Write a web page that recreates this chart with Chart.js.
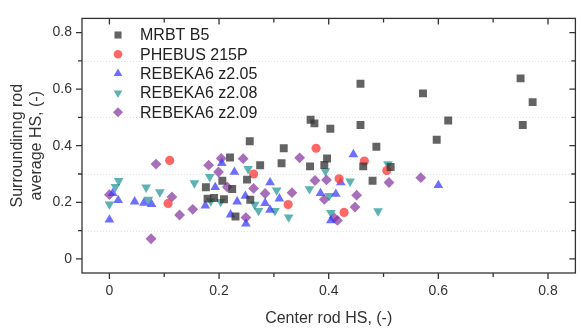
<!DOCTYPE html>
<html>
<head>
<meta charset="utf-8">
<script src="https://cdn.jsdelivr.net/npm/chart.js@4"></script>
<style>
  html, body { margin: 0; padding: 0; background: #fff; }
  #wrap { width: 581px; height: 330px; }
</style>
</head>
<body>
<div id="wrap"><canvas id="myChart" width="581" height="330"></canvas></div>
<script>
// data block, [center rod HS, surrounding rod HS]
const mrbt = [
  [0.176, 0.253], [0.179, 0.213], [0.191, 0.215], [0.206, 0.276], [0.209, 0.211],
  [0.224, 0.247], [0.220, 0.358], [0.230, 0.150], [0.251, 0.280], [0.257, 0.209],
  [0.256, 0.416], [0.275, 0.331], [0.314, 0.338], [0.318, 0.391], [0.367, 0.492],
  [0.374, 0.479], [0.366, 0.327], [0.392, 0.332], [0.397, 0.355], [0.403, 0.460],
  [0.458, 0.619], [0.458, 0.473], [0.463, 0.327], [0.487, 0.396], [0.480, 0.276],
  [0.513, 0.325], [0.572, 0.585], [0.597, 0.421], [0.618, 0.489], [0.750, 0.638],
  [0.754, 0.473], [0.772, 0.554],
];
const phebus = [
  [0.110, 0.348], [0.107, 0.196], [0.263, 0.300], [0.326, 0.192], [0.377, 0.391],
  [0.419, 0.283], [0.428, 0.164], [0.465, 0.346], [0.506, 0.312],
];
const rebeka205 = [
  [0.000, 0.138], [0.006, 0.232], [0.016, 0.207], [0.046, 0.202], [0.063, 0.198],
  [0.077, 0.193], [0.175, 0.188], [0.193, 0.253], [0.205, 0.338], [0.228, 0.307],
  [0.233, 0.202], [0.248, 0.222], [0.221, 0.156], [0.249, 0.124], [0.284, 0.197],
  [0.293, 0.270], [0.293, 0.173], [0.310, 0.213], [0.385, 0.232], [0.413, 0.229],
  [0.422, 0.270], [0.404, 0.136], [0.445, 0.369], [0.600, 0.260],
];
const rebeka208 = [
  [0.000, 0.193], [0.011, 0.255], [0.017, 0.276], [0.067, 0.253], [0.071, 0.210],
  [0.092, 0.236], [0.155, 0.268], [0.183, 0.290], [0.185, 0.204], [0.203, 0.202],
  [0.253, 0.318], [0.265, 0.192], [0.272, 0.170], [0.302, 0.170], [0.305, 0.242],
  [0.327, 0.147], [0.365, 0.247], [0.394, 0.310], [0.401, 0.223], [0.404, 0.163],
  [0.439, 0.274], [0.490, 0.169], [0.508, 0.335],
];
const rebeka209 = [
  [0.000, 0.227], [0.076, 0.071], [0.085, 0.335], [0.114, 0.219], [0.128, 0.155],
  [0.152, 0.175], [0.181, 0.331], [0.199, 0.307], [0.204, 0.355], [0.215, 0.254],
  [0.244, 0.354], [0.249, 0.146], [0.263, 0.249], [0.284, 0.231], [0.333, 0.234],
  [0.347, 0.357], [0.375, 0.277], [0.392, 0.210], [0.396, 0.279], [0.410, 0.145],
  [0.416, 0.136], [0.448, 0.183], [0.451, 0.225], [0.510, 0.270], [0.568, 0.287],
];
// tick labels (major) and tick marks (all)
const xTickLabels = [0, 0.2, 0.4, 0.6, 0.8];
const yTickLabels = [0, 0.2, 0.4, 0.6, 0.8];
const tickMarks = [0, 0.1, 0.2, 0.3, 0.4, 0.5, 0.6, 0.7, 0.8];
const gridValues = [0.1, 0.3, 0.5, 0.7];

const FONT = "'Liberation Sans', Arial, sans-serif";
const toXY = (arr) => arr.map((p) => ({ x: p[0], y: p[1] }));

const data = {
  datasets: [
    { label: "MRBT B5", data: toXY(mrbt), pointStyle: "rect", pointRadius: 5.6,
      backgroundColor: "rgba(50,50,50,0.76)" },
    { label: "PHEBUS 215P", data: toXY(phebus), pointStyle: "circle", pointRadius: 4.6,
      backgroundColor: "rgba(255,60,60,0.78)" },
    { label: "REBEKA6 z2.05", data: toXY(rebeka205), pointStyle: "triangle", pointRadius: 5.6,
      backgroundColor: "rgba(55,55,255,0.72)" },
    { label: "REBEKA6 z2.08", data: toXY(rebeka208), pointStyle: "triangle", pointRotation: 180,
      pointRadius: 5.6, backgroundColor: "rgba(25,145,145,0.7)" },
    { label: "REBEKA6 z2.09", data: toXY(rebeka209), pointStyle: "rectRot", pointRadius: 5.4,
      backgroundColor: "rgba(130,50,155,0.7)" },
  ],
};
data.datasets.forEach((d) => {
  d.borderWidth = 0;
  d.pointHoverRadius = d.pointRadius;
  d.showLine = false;
});

// frame, tick marks and faint dotted grid
const frame = {
  id: "frame",
  beforeDatasetsDraw(chart) {
    const { ctx, chartArea: { left, right }, scales: { y } } = chart;
    ctx.save();
    ctx.strokeStyle = "rgba(190,190,190,0.45)";
    ctx.lineWidth = 1;
    ctx.setLineDash([1, 2]);
    gridValues.forEach((v) => {
      const py = Math.round(y.getPixelForValue(v)) + 0.5;
      ctx.beginPath();
      ctx.moveTo(left, py);
      ctx.lineTo(right, py);
      ctx.stroke();
    });
    ctx.restore();
  },
  afterDraw(chart) {
    const { ctx, chartArea: { top, bottom, left, right }, scales: { x, y } } = chart;
    ctx.save();
    ctx.strokeStyle = "#333";
    ctx.lineWidth = 1.3;
    ctx.strokeRect(left, top, right - left, bottom - top);
    ctx.beginPath();
    tickMarks.forEach((v) => {
      const major = xTickLabels.includes(v);
      const len = major ? 6 : 4;
      const px = x.getPixelForValue(v);
      ctx.moveTo(px, bottom);
      ctx.lineTo(px, bottom + len);
      ctx.moveTo(px, top);
      ctx.lineTo(px, top + len);
      const py = y.getPixelForValue(v);
      ctx.moveTo(left, py);
      ctx.lineTo(left - len, py);
      ctx.moveTo(right, py);
      ctx.lineTo(right - len, py);
    });
    ctx.stroke();
    ctx.restore();

    // legend inside the plot (drawPoint fills with the current fillStyle)
    ctx.save();
    ctx.font = "16px " + FONT;
    ctx.textBaseline = "middle";
    chart.data.datasets.forEach((d, i) => {
      const cy = 35 + i * 19.3;
      ctx.fillStyle = d.backgroundColor;
      Chart.helpers.drawPoint(ctx, {
        pointStyle: d.pointStyle,
        rotation: d.pointRotation || 0,
        radius: d.pointStyle === "circle" ? 4.3 : 5,
        borderWidth: 0,
      }, 118, cy);
      ctx.fillStyle = "#222";
      ctx.fillText(d.label, 140, cy + 1);
    });
    ctx.restore();
  },
};

const config = {
  type: "scatter",
  data: data,
  options: {
    responsive: false,
    animation: false,
    layout: { padding: { top: 10, right: 2, left: 0, bottom: 0 } },
    plugins: {
      legend: { display: false },
      tooltip: { enabled: false },
    },
    scales: {
      x: {
        min: -0.05,
        max: 0.85,
        afterBuildTicks: (s) => { s.ticks = tickMarks.map((v) => ({ value: v })); },
        afterFit: (s) => { s.height = 57; },
        grid: { display: false, drawTicks: false },
        border: { display: false },
        ticks: {
          autoSkip: false,
          maxRotation: 0,
          padding: 10,
          color: "#333",
          font: { family: FONT, size: 14 },
          callback: (v) => (xTickLabels.includes(v) ? String(v) : ""),
        },
        title: {
          display: true,
          text: "Center rod HS, (-)",
          color: "#333",
          font: { family: FONT, size: 16 },
          padding: { top: 0, bottom: 2 },
        },
      },
      y: {
        min: -0.05,
        max: 0.85,
        afterBuildTicks: (s) => { s.ticks = tickMarks.map((v) => ({ value: v })); },
        afterFit: (s) => { s.width = 82; },
        grid: { display: false, drawTicks: false },
        border: { display: false },
        ticks: {
          autoSkip: false,
          padding: 10,
          color: "#333",
          font: { family: FONT, size: 14 },
          callback: (v) => (yTickLabels.includes(v) ? String(v) : ""),
        },
        title: {
          display: true,
          text: ["Surroundinng rod", "average HS, (-)"],
          color: "#333",
          font: { family: FONT, size: 16 },
          padding: { top: 8, bottom: 0 },
        },
      },
    },
  },
  plugins: [frame],
};

const myChart = new Chart(document.getElementById("myChart"), config);
</script>
</body>
</html>
